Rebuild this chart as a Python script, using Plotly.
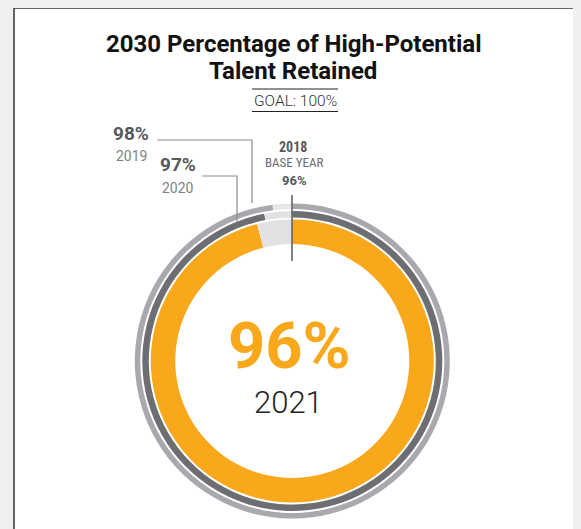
import plotly.graph_objects as go

# ---- data ----
years = ["2018", "2019", "2020", "2021"]
retained = [96, 98, 97, 96]
goal = 100
title_lines = ["2030 Percentage of High-Potential", "Talent Retained"]
goal_label = "GOAL: 100%"

W, H = 581, 529
OFF = 8  # page body margin
CX, CY = 292.3, 361.0
BG = "#F0F0F0"


def px(x):
    return (x - OFF) / W


def py(y):
    return 1 - (y - OFF) / H


def ring_domain(r):
    return dict(x=[px(CX - r), px(CX + r)], y=[py(CY + r), py(CY - r)])


ORANGE = "#F9A81C"
DARK = "#6D6E71"
MID = "#A7A9AC"
REST = "#E1E2E3"

# ring geometry (outer radius px, inner radius px)
rings = {
    "2019": (157.5, 152.0, MID, "#E6E7E8"),
    "2020": (150.0, 143.5, DARK, REST),
    "2021": (141.5, 117.0, ORANGE, REST),
}

fig = go.Figure()
for yr, val in zip(years, retained):
    if yr not in rings:
        continue
    ro, ri, col, rest = rings[yr]
    fig.add_trace(go.Pie(
        values=[val, goal - val],
        labels=[f"{yr} retained", f"{yr} remaining"],
        sort=False, direction="clockwise", rotation=0,
        hole=ri / ro,
        domain=ring_domain(ro),
        marker=dict(colors=[col, rest], line=dict(width=0)),
        textinfo="none", hoverinfo="skip", showlegend=False,
    ))

shapes = []
# white panel
shapes.append(dict(type="rect", xref="paper", yref="paper", layer="below",
                   x0=px(14), x1=px(578), y0=py(560), y1=py(8),
                   fillcolor="white", line=dict(color="#333333", width=1.5)))
# goal rules
for yy in (89, 111.5):
    shapes.append(dict(type="line", xref="paper", yref="paper",
                       x0=px(252), x1=px(338), y0=py(yy), y1=py(yy),
                       line=dict(color="#222222", width=1)))
# callout lines
shapes.append(dict(type="path", xref="paper", yref="paper",
                   path=f"M {px(157)},{py(140)} L {px(252)},{py(140)} L {px(252)},{py(203)}",
                   line=dict(color="#8A8B8E", width=1.2)))
shapes.append(dict(type="path", xref="paper", yref="paper",
                   path=f"M {px(202)},{py(176)} L {px(237)},{py(176)} L {px(237)},{py(222)}",
                   line=dict(color="#8A8B8E", width=1.2)))
# base-year marker
shapes.append(dict(type="line", xref="paper", yref="paper", layer="above",
                   x0=px(292), x1=px(292), y0=py(195), y1=py(261),
                   line=dict(color="#58595B", width=1.5)))

ann = []


def text(t, x, y, size, color, weight=400, family="Roboto", height=None):
    a = dict(text=t, x=px(x), y=py(y), xref="paper", yref="paper",
             xanchor="center", yanchor="middle", showarrow=False,
             font=dict(size=size, color=color, family=family, weight=weight))
    if height:
        a["height"] = height
    ann.append(a)


text(title_lines[0], 293, 44, 24, "#111111", 700)
text(title_lines[1], 293, 71, 24, "#111111", 700)
text(goal_label, 295, 100.5, 15.5, "#333333", 300)

text(f"{retained[1]}%", 131, 133, 19, "#58595B", 700)
text(years[1], 131, 156, 14, "#808285", 400)
text(f"{retained[2]}%", 177.5, 165, 19, "#58595B", 700)
text(years[2], 177.5, 187.5, 14, "#808285", 400)

cond = "Liberation Sans Narrow, Roboto Condensed, DejaVu Sans Condensed, Roboto"
text(years[0], 293, 147, 14, "#58595B", 700, cond)
text("BASE YEAR", 294, 162, 13, "#6D6E71", 400, cond)
text(f"{retained[0]}%", 294, 180.5, 13, "#58595B", 700)

text(f"{retained[3]}%", 289, 345.5, 65, ORANGE, 700, height=58)
text(years[3], 288, 401.5, 31, "#222222", 300, height=30)

fig.update_layout(
    width=W, height=H, margin=dict(l=0, r=0, t=0, b=0),
    paper_bgcolor=BG, plot_bgcolor=BG,
    shapes=shapes, annotations=ann, showlegend=False,
)

fig.write_html("out.html",
               post_script=f"document.body.style.background='{BG}';")
